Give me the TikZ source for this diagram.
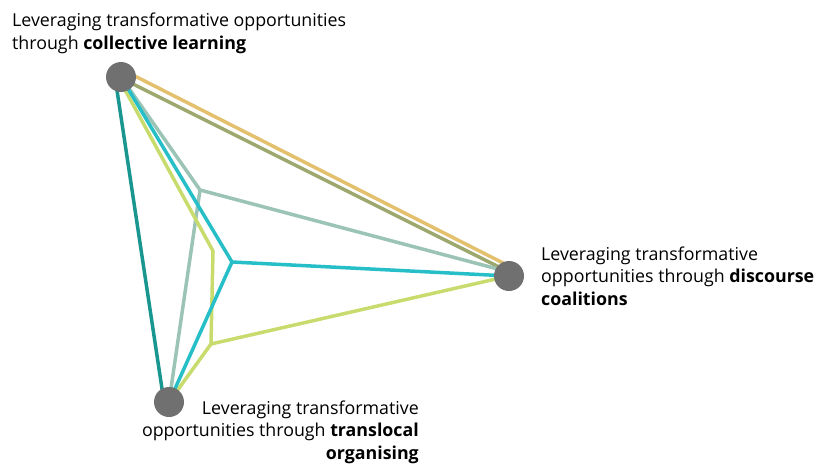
\documentclass[tikz,border=0pt]{standalone}
\usepackage{fontspec}
\setmainfont{Open Sans}
\usetikzlibrary{calc}
\definecolor{cgold}{HTML}{E2C06E}
\definecolor{colive}{HTML}{9DA86E}
\definecolor{cdteal}{HTML}{1A9690}
\definecolor{cgreen}{HTML}{C8DC6E}
\definecolor{ccyan}{HTML}{26BFC8}
\definecolor{cgteal}{HTML}{9CC4B6}
\definecolor{cnode}{HTML}{707070}
\tikzset{
  hub/.style={circle, fill=cnode, minimum size=30pt, inner sep=0pt},
  link/.style={line width=3.5pt, line join=round},
  lbl/.style={inner sep=0pt, font=\fontsize{17.8}{22.3}\selectfont}
}
\begin{document}
\begin{tikzpicture}[x=1pt,y=-1pt]
\useasboundingbox (0,0) rectangle (820,467);
% hub positions
\coordinate (A) at (121,77);
\coordinate (B) at (509,276);
\coordinate (C) at (169,402);
% inner vertices
\coordinate (vg) at (200,190);
\coordinate (vc) at (232,262);
\coordinate (vy1) at (213,251);
\coordinate (vy2) at (211,344);
% connectors
\draw[link, cgold] ($(A)+(0,-8)$) -- ($(B)+(0,-10)$);
\draw[link, colive] ($(A)+(0,1)$) -- ($(B)+(0,-4)$);
\draw[link, cdteal] ($(A)+(-6,0)$) -- ($(C)+(-5,0)$);
\draw[link, cgteal] (A) -- (vg) -- ($(B)+(0,-4)$);
\draw[link, cgteal] (vg) -- (C);
\draw[link, cgreen] ($(A)+(-3,0)$) -- (vy1) -- (vy2) -- (B);
\draw[link, cgreen] (vy2) -- (C);
\draw[link, ccyan] (A) -- (vc) -- (B);
\draw[link, ccyan] (vc) -- (C);
% hubs
\node[hub] (hA) at (A) {};
\node[hub] (hB) at (B) {};
\node[hub] (hC) at (C) {};
% labels
\node[lbl, anchor=base west, align=left] (tA) at (12,49)
  {Leveraging transformative opportunities\\through \textbf{collective learning}};
\node[lbl, anchor=base west, align=left] (tB) at (541,305)
  {Leveraging transformative\\opportunities through \textbf{discourse}\\\textbf{coalitions}};
\node[lbl, anchor=base east, align=right] (tC) at (419,459)
  {Leveraging transformative\\opportunities through \textbf{translocal}\\\textbf{organising}};
\end{tikzpicture}
\end{document}
